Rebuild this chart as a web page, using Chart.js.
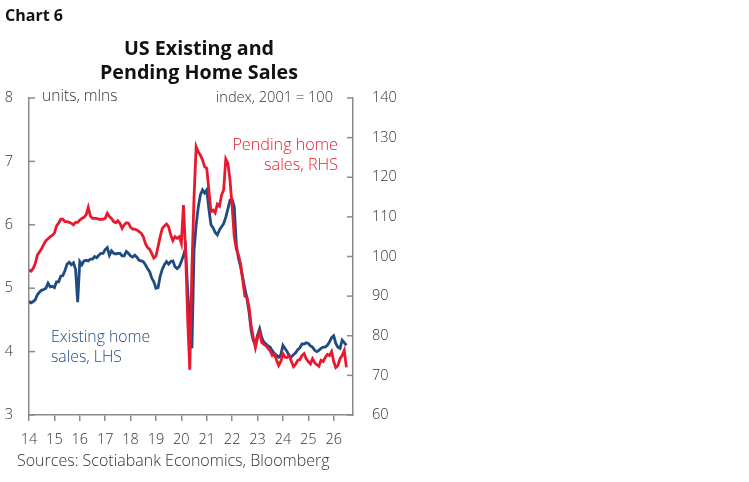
<!DOCTYPE html>
<html>
<head>
<meta charset="utf-8">
<title>US Existing and Pending Home Sales</title>
<script src="https://cdn.jsdelivr.net/npm/chart.js@4.4.1/dist/chart.umd.min.js"></script>
<style>
  body { margin: 0; background: #fff; }
  #wrap { position: relative; width: 749px; height: 482px; font-family: "Open Sans", sans-serif; color: #333; }
  #wrap canvas { position: absolute; left: 0; top: 0; }
  .t { position: absolute; white-space: nowrap; line-height: 1; font-size: 15px; font-weight: 300; }
</style>
</head>
<body>
<div id="wrap">
  <canvas id="chart" width="749" height="482"></canvas>
  <div class="t" style="left:5px; top:7px; font-size:16px; font-weight:700; color:#111;">Chart 6</div>
  <div class="t" style="left:0; width:398px; top:36px; text-align:center; font-size:19.7px; line-height:24px; font-weight:700; color:#111;">US Existing and<br>Pending Home Sales</div>
  <div class="t" style="left:42px; top:88px; font-size:15.6px;">units, mlns</div>
  <div class="t" style="right:416px; top:89px; font-size:14.6px;">index, 2001 = 100</div>
  <div class="t" style="right:411px; top:134px; text-align:right; font-size:16.2px; line-height:20px; color:#e8192f;">Pending home<br>sales, RHS</div>
  <div class="t" style="left:51px; top:326px; font-size:15.8px; line-height:20px; color:#1e4b82;">Existing home<br>sales, LHS</div>
  <div class="t" style="left:17px; top:452px; font-size:16px;">Sources: Scotiabank Economics, Bloomberg</div>
</div>
<script>
// --- Data (monthly, starting Jan 2014) ---
const yearLabels = ['14', '15', '16', '17', '18', '19', '20', '21', '22', '23', '24', '25', '26'];

// existing home sales, units mlns (LHS)
const existingSales = [
  4.79, 4.77, 4.79, 4.82, 4.90, 4.94, 4.97, 4.98, 5.00, 5.08, 5.02, 5.03,
  5.01, 5.10, 5.10, 5.19, 5.20, 5.28, 5.38, 5.41, 5.37, 5.40, 5.30, 4.78,
  5.42, 5.37, 5.43, 5.44, 5.43, 5.46, 5.46, 5.50, 5.48, 5.52, 5.55, 5.55,
  5.61, 5.64, 5.52, 5.59, 5.55, 5.54, 5.55, 5.55, 5.51, 5.51, 5.58, 5.55,
  5.51, 5.49, 5.52, 5.49, 5.44, 5.43, 5.42, 5.37, 5.31, 5.26, 5.16, 5.10,
  5.00, 5.01, 5.19, 5.30, 5.37, 5.42, 5.38, 5.42, 5.43, 5.34, 5.31, 5.34,
  5.42, 5.52, 5.63, 4.95, 4.47, 4.05, 5.60, 6.00, 6.28, 6.47, 6.55, 6.50,
  6.55, 6.25, 6.00, 5.95, 5.88, 5.84, 5.92, 5.97, 6.02, 6.12, 6.25, 6.39,
  6.40, 6.28, 5.68, 5.47, 5.34, 5.17, 5.00, 4.84, 4.62, 4.33, 4.17, 4.12,
  4.26, 4.36, 4.22, 4.15, 4.12, 4.09, 4.07, 4.01, 3.97, 3.94, 3.91, 3.95,
  4.10, 4.05, 4.00, 3.93, 3.92, 3.95, 3.98, 4.03, 4.06, 4.12, 4.12, 4.14,
  4.13, 4.09, 4.07, 4.02, 4.00, 4.02, 4.05, 4.07, 4.07, 4.10, 4.15, 4.22,
  4.25, 4.13, 4.07, 4.05, 4.18, 4.14, 4.10
];

// pending home sales index, 2001 = 100 (RHS)
const pendingIndex = [
  96.6, 96.3, 97.0, 98.3, 100.4, 101.2, 102.0, 103.1, 104.0, 104.5, 105.0, 105.3,
  105.9, 107.7, 108.4, 109.4, 109.4, 108.8, 108.8, 108.6, 108.4, 108.0, 108.6, 108.6,
  109.2, 109.6, 109.9, 110.5, 112.4, 110.2, 109.6, 109.6, 109.6, 109.4, 109.4, 109.4,
  109.6, 110.9, 110.1, 109.6, 108.8, 108.5, 109.0, 108.4, 107.1, 108.0, 108.5, 108.4,
  107.4, 106.9, 106.9, 106.7, 106.3, 105.9, 105.0, 103.3, 102.3, 101.8, 100.8, 99.6,
  100.1, 102.5, 105.0, 107.1, 107.7, 108.2, 107.5, 105.4, 104.0, 105.0, 104.6, 105.0,
  103.3, 113.0, 101.4, 84.0, 71.4, 97.0, 115.0, 127.7, 126.4, 125.6, 124.4, 122.7,
  122.3, 116.8, 111.3, 111.7, 111.0, 113.2, 112.7, 115.5, 116.8, 124.6, 123.5, 119.3,
  112.6, 105.0, 101.8, 100.4, 98.1, 94.1, 90.0, 89.7, 87.3, 82.5, 79.5, 77.0,
  79.5, 80.8, 78.3, 77.8, 77.5, 76.8, 76.2, 75.0, 75.3, 73.8, 72.5, 73.5,
  75.5, 74.6, 74.5, 75.0, 73.5, 72.2, 72.8, 73.8, 74.0, 75.0, 75.5, 74.2,
  73.5, 72.9, 74.2, 73.2, 72.7, 72.3, 73.8, 73.5, 74.5, 75.3, 75.0, 76.0,
  73.5, 72.0, 72.5, 74.2, 75.0, 76.3, 72.0
];

const RED = '#e8192f';
const BLUE = '#1e4b82';
const AXIS = '#8a8a8a';
const TEXT = '#333';
const tickFont = { family: 'Open Sans', size: 14.5, weight: 300 };

// months since Jan 2014, in years
function toPoints(values) {
  return values.map((v, i) => ({ x: i / 12, y: v }));
}

// y axis ticks point inward in the original
const inwardTicks = {
  id: 'inwardTicks',
  beforeDatasetsDraw(chart) {
    const ctx = chart.ctx;
    const { left, right } = chart.chartArea;
    ctx.save();
    ctx.strokeStyle = AXIS;
    ctx.lineWidth = 1.5;
    const yL = chart.scales.yL;
    yL.ticks.forEach(t => {
      const y = yL.getPixelForValue(t.value);
      ctx.beginPath(); ctx.moveTo(left, y); ctx.lineTo(left + 6, y); ctx.stroke();
    });
    const yR = chart.scales.yR;
    yR.ticks.forEach(t => {
      const y = yR.getPixelForValue(t.value);
      ctx.beginPath(); ctx.moveTo(right, y); ctx.lineTo(right - 6, y); ctx.stroke();
    });
    ctx.restore();
  }
};

const chart = new Chart(document.getElementById('chart'), {
  type: 'line',
  data: {
    datasets: [
      { label: 'Pending home sales, RHS', data: toPoints(pendingIndex), yAxisID: 'yR',
        borderColor: RED, borderWidth: 2.8, pointRadius: 0, tension: 0 },
      { label: 'Existing home sales, LHS', data: toPoints(existingSales), yAxisID: 'yL',
        borderColor: BLUE, borderWidth: 2.8, pointRadius: 0, tension: 0 }
    ]
  },
  options: {
    responsive: false,
    animation: false,
    layout: { padding: { left: 0, right: 336, top: 98, bottom: 27 } },
    plugins: { legend: { display: false }, tooltip: { enabled: false } },
    scales: {
      x: {
        type: 'linear', min: 0, max: 12.76,
        afterBuildTicks: s => { s.ticks = yearLabels.map((_, i) => ({ value: i })); },
        ticks: { callback: (v) => yearLabels[v], font: tickFont, color: TEXT, padding: 10, maxRotation: 0, autoSkip: false },
        grid: { drawOnChartArea: false, drawTicks: true, tickLength: 6, color: AXIS, lineWidth: 1.5 },
        border: { display: true, color: AXIS, width: 1.5 },
        afterFit: s => { s.height = 40; }
      },
      yL: {
        position: 'left', min: 3, max: 8,
        ticks: { stepSize: 1, padding: 16, font: tickFont, color: TEXT },
        grid: { drawOnChartArea: false, drawTicks: false },
        border: { display: true, color: AXIS, width: 1.5 },
        afterFit: s => { s.width = 29; }
      },
      yR: {
        position: 'right', min: 60, max: 140,
        ticks: { stepSize: 10, padding: 19, font: tickFont, color: TEXT },
        grid: { drawOnChartArea: false, drawTicks: false },
        border: { display: true, color: AXIS, width: 1.5 },
        afterFit: s => { s.width = 60; }
      }
    }
  },
  plugins: [inwardTicks]
});
</script>
</body>
</html>
